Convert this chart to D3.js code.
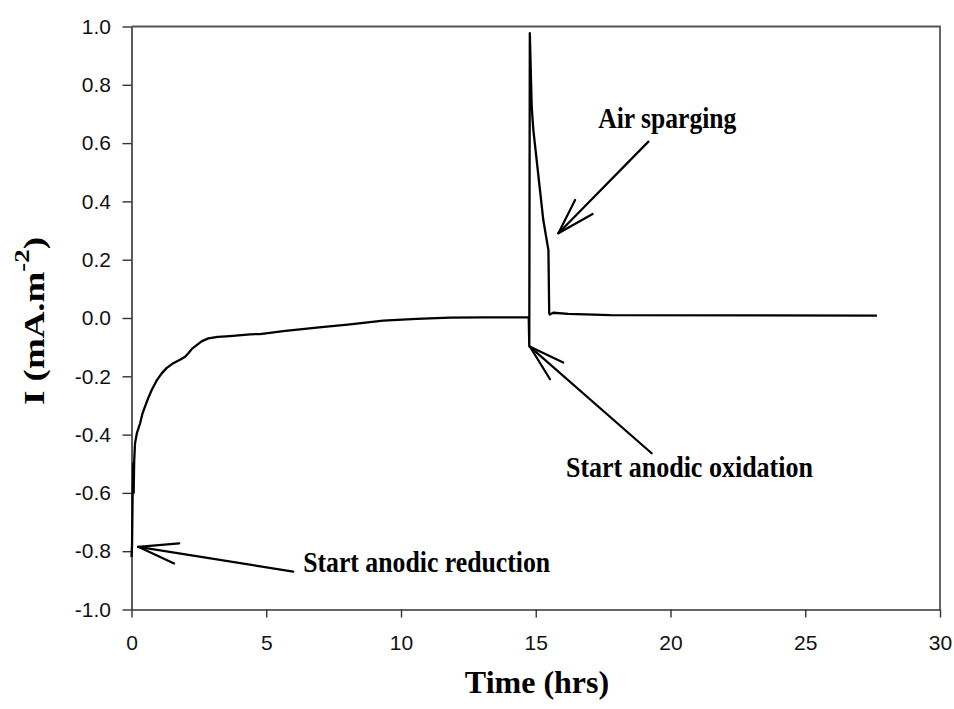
<!DOCTYPE html>
<html>
<head>
<meta charset="utf-8">
<script src="https://cdn.jsdelivr.net/npm/d3@7"></script>
<style>
  html, body { margin: 0; padding: 0; background: #fff; }
  svg { display: block; }
</style>
</head>
<body>
<svg id="chart" width="954" height="709"></svg>
<script>
// Chronoamperometry record: current density vs. time
const timeHrs = [0, 0.02, 0.04, 0.06, 0.08, 0.10, 0.13, 0.20, 0.32, 0.40, 0.50, 0.62, 0.75, 0.93, 1.12, 1.30,
  1.55, 1.80, 1.99, 2.05, 2.11, 2.25, 2.42, 2.60, 2.85, 3.20, 3.65, 4.40, 4.77, 5.63, 6.87, 8.11, 9.34,
  10.58, 11.82, 13.05, 14.66, 14.74, 14.76, 14.78, 14.85, 14.91, 15.28, 15.47, 15.50, 15.52, 15.65,
  16.21, 17.76, 27.66];
const currentDensity = [-0.82, -0.78, -0.62, -0.50, -0.60, -0.49, -0.43, -0.395, -0.361, -0.330, -0.304,
  -0.275, -0.247, -0.215, -0.190, -0.172, -0.155, -0.143, -0.133, -0.127, -0.121, -0.105, -0.093, -0.080,
  -0.070, -0.065, -0.062, -0.056, -0.055, -0.045, -0.033, -0.022, -0.009, -0.003, 0.001, 0.002, 0.002,
  0.002, -0.098, 0.977, 0.725, 0.645, 0.336, 0.233, 0.016, 0.012, 0.018, 0.014, 0.010, 0.008];

const xTicks = [0, 5, 10, 15, 20, 25, 30];
const yTicks = [-1.0, -0.8, -0.6, -0.4, -0.2, 0.0, 0.2, 0.4, 0.6, 0.8, 1.0];

// Annotations: label text, label anchor (time, current), arrow tail, tip and two barb ends
const noteLabels = ["Start anodic reduction", "Start anodic oxidation", "Air sparging"];
const noteTextAt = [[6.37, -0.870], [16.12, -0.544], [17.32, 0.651]];
const noteTail   = [[6.00, -0.870], [19.30, -0.464], [19.18, 0.605]];
const noteTip    = [[0.25, -0.785], [14.79, -0.099], [15.84, 0.291]];
const noteBarbA  = [[1.77, -0.773], [16.02, -0.153], [16.46, 0.405]];
const noteBarbB  = [[1.58, -0.842], [15.53, -0.210], [17.11, 0.357]];

// Layout and style
const box = { left: 131.5, right: 940, top: 26.5, bottom: 609.5 };
const noteWidths = [247, 247, 138];
const serif = "'Liberation Serif', 'Times New Roman', serif";
const sans = "'Liberation Sans', Arial, sans-serif";

const svg = d3.select("#chart");

const x = d3.scaleLinear().domain([0, 30]).range([box.left, box.right]);
const y = d3.scaleLinear().domain([-1, 1]).range([box.bottom, box.top]);

// Frame on top and right
svg.append("path")
  .attr("d", `M${box.left},${box.top}H${box.right}V${box.bottom}`)
  .attr("fill", "none")
  .attr("stroke", "#555")
  .attr("stroke-width", 1.8);

// X axis
const gx = svg.append("g")
  .attr("transform", `translate(0,${box.bottom})`)
  .call(d3.axisBottom(x).tickValues(xTicks).tickSize(8).tickSizeOuter(0).tickPadding(18)
    .tickFormat(d3.format("d")));

// Y axis
const gy = svg.append("g")
  .attr("transform", `translate(${box.left},0)`)
  .call(d3.axisLeft(y).tickValues(yTicks).tickSize(9).tickSizeOuter(0).tickPadding(11.5)
    .tickFormat(d => d.toFixed(1)));

[gx, gy].forEach(g => {
  g.select(".domain").attr("stroke", "#333").attr("stroke-width", 1.6);
  g.selectAll(".tick line").attr("stroke", "#333").attr("stroke-width", 1.4);
  g.selectAll(".tick text")
    .attr("fill", "#111")
    .style("font-family", sans)
    .style("font-size", "21px");
});

// Axis titles
svg.append("text")
  .attr("x", 537)
  .attr("y", 693)
  .attr("text-anchor", "middle")
  .style("font-family", serif)
  .style("font-weight", "bold")
  .style("font-size", "32px")
  .attr("fill", "#000")
  .text("Time (hrs)");

const yTitle = svg.append("text")
  .attr("transform", "translate(44,321) rotate(-90)")
  .attr("text-anchor", "middle")
  .attr("textLength", 168)
  .attr("lengthAdjust", "spacingAndGlyphs")
  .style("font-family", serif)
  .style("font-weight", "bold")
  .style("font-size", "29px")
  .attr("fill", "#000");
yTitle.append("tspan").text("I (mA.m");
yTitle.append("tspan").attr("dy", -15).style("font-size", "21px").text("-2");
yTitle.append("tspan").attr("dy", 15).text(")");

// Current trace
const line = d3.line()
  .x((d, i) => x(timeHrs[i]))
  .y(d => y(d));

svg.append("path")
  .datum(currentDensity)
  .attr("d", line)
  .attr("fill", "none")
  .attr("stroke", "#000")
  .attr("stroke-width", 2.3)
  .attr("stroke-linejoin", "round");

// Annotation arrows and labels
const notes = svg.append("g");
noteLabels.forEach((label, i) => {
  const tip = noteTip[i];
  [noteTail[i], noteBarbA[i], noteBarbB[i]].forEach(end => {
    notes.append("line")
      .attr("x1", x(end[0])).attr("y1", y(end[1]))
      .attr("x2", x(tip[0])).attr("y2", y(tip[1]))
      .attr("stroke", "#000")
      .attr("stroke-width", 2.2)
      .attr("stroke-linecap", "round");
  });
  notes.append("text")
    .attr("x", x(noteTextAt[i][0]))
    .attr("y", y(noteTextAt[i][1]))
    .attr("textLength", noteWidths[i])
    .attr("lengthAdjust", "spacingAndGlyphs")
    .style("font-family", serif)
    .style("font-weight", "bold")
    .style("font-size", "29px")
    .attr("fill", "#000")
    .text(label);
});
</script>
</body>
</html>
